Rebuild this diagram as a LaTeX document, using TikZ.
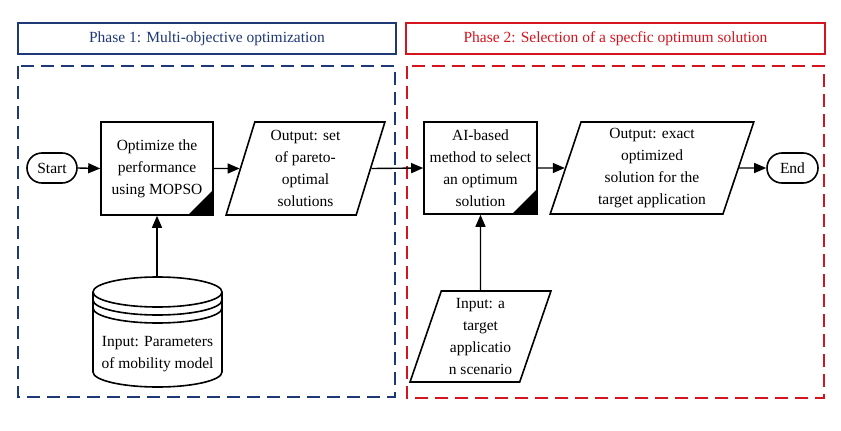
\documentclass[tikz,border=0pt]{standalone}
\usepackage{fontspec}
\setmainfont{Liberation Serif}
\usetikzlibrary{arrows.meta, shapes.geometric, positioning}
\definecolor{phaseblue}{RGB}{31,56,118}
\definecolor{phasered}{RGB}{212,20,30}
\tikzset{
  align=center,
  font=\fontsize{15.5}{22}\selectfont,
  phasehead/.style={draw, line width=1.8pt, minimum height=31pt, inner sep=0pt},
  phasearea/.style={draw, line width=1.6pt, dash pattern=on 13pt off 7pt},
  term/.style={draw, line width=1.6pt, rounded corners=15pt, minimum width=50pt, minimum height=30pt, inner sep=0pt},
  procbox/.style={draw, line width=1.6pt, minimum height=93pt, inner sep=0pt,
    path picture={\fill (path picture bounding box.south east) -- ++(-25pt,0) -- ++(25pt,25pt) -- cycle;}},
  iobox/.style={trapezium, trapezium stretches=true, trapezium left angle=#1, trapezium right angle=180-#1,
    draw, line width=1.6pt, minimum height=92pt, inner sep=0pt},
  dbline/.style={line width=1.6pt},
  pto/.style={-{Triangle[length=12pt,width=10pt]}, line width=1.4pt}
}

\begin{document}
\begin{tikzpicture}[x=1pt, y=-1pt]
    \useasboundingbox (0,0) rectangle (841,431);

    % phase headers and areas
    \node[phasehead, draw=phaseblue, text=phaseblue, minimum width=378pt] (head1) at (207,38.5) {Phase 1: Multi-objective optimization};
    \node[phasehead, draw=phasered, text=phasered, minimum width=419pt] (head2) at (615.5,38.5) {Phase 2: Selection of a specfic optimum solution};
    \draw[phasearea, phaseblue] (18,66) rectangle (395,397);
    \draw[phasearea, phasered] (407,66) rectangle (824,398);

    % main flow
    \node[term] (start) at (52,168) {Start};
    \node[procbox, minimum width=112pt] (opt) at (157,168.5) {Optimize the\\performance\\using MOPSO};
    \node[iobox=75.5, minimum width=159pt, minimum height=93pt] (pareto) at (305.5,168.5) {Output: set\\of pareto-\\optimal\\solutions};
    \node[procbox, minimum width=113pt, minimum height=92pt] (aisel) at (480.5,168) {AI-based\\method to select\\an optimum\\solution};
    \node[iobox=73.6, minimum width=204pt] (exact) at (652,168) {Output: exact\\optimized\\solution for the\\target application};
    \node[term, minimum width=51pt] (finish) at (792.5,168) {End};

    % inputs
    \draw[dbline] (93,292) -- (93,372) arc[start angle=180, end angle=0, x radius=64.5, y radius=15] -- (222,292);
    \draw[dbline] (157.5,292) ellipse[x radius=64.5, y radius=15];
    \draw[dbline] (93,300) arc[start angle=180, end angle=0, x radius=64.5, y radius=15];
    \draw[dbline] (93,308) arc[start angle=180, end angle=0, x radius=64.5, y radius=15];
    \coordinate (paramstop) at (157,277);
    \node (params) at (157.5,354) {Input: Parameters\\of mobility model};
    \node[iobox=71.7, minimum width=141pt, minimum height=91pt] (target) at (480.5,336.5) {Input: a\\target\\applicatio\\n scenario};

    \draw[pto] (start.east) -- (opt.west);
    \draw[pto] (opt.east) -- (pareto.west);
    \draw[pto] (pareto.east) -- (aisel.west);
    \draw[pto] (aisel.east) -- (exact.west);
    \draw[pto] (exact.east) -- (finish.west);
    \draw[pto] (paramstop) -- (opt.south);
    \draw[pto] (target.north) -- (aisel.south);
\end{tikzpicture}
\end{document}
